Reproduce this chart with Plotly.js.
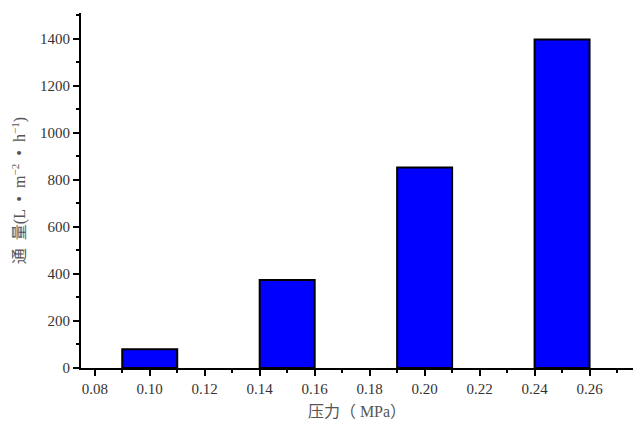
<!DOCTYPE html>
<html>
<head>
<meta charset="utf-8">
<script src="https://cdn.plot.ly/plotly-3.0.1.min.js"></script>
<style>
    html, body { margin: 0; padding: 0; background: #fff; }
    #chart { width: 641px; height: 425px; }
</style>
</head>
<body>
<div id="chart"></div>
<script>
const pressures = [0.10, 0.15, 0.20, 0.25];
const fluxValues = [80, 374, 853, 1397];
const xTickValues = [0.08, 0.10, 0.12, 0.14, 0.16, 0.18, 0.20, 0.22, 0.24, 0.26];
const xTickLabels = ['0.08', '0.10', '0.12', '0.14', '0.16', '0.18', '0.20', '0.22', '0.24', '0.26'];
const yTickValues = [0, 200, 400, 600, 800, 1000, 1200, 1400];

const tickFont = { family: 'Liberation Serif, Times New Roman, serif', size: 15, color: '#333' };
const titleFont = { family: 'Liberation Serif, Noto Sans CJK SC, serif', size: 16, color: '#555' };

Plotly.newPlot('chart', [{
    type: 'bar',
    x: pressures,
    y: fluxValues,
    width: 0.02,
    marker: { color: '#0000ff', line: { color: '#000', width: 2 } },
    hovertemplate: '%{x:.2f} MPa<br>%{y}<extra></extra>',
}], {
    width: 641,
    height: 425,
    margin: { t: 13, r: 8, b: 57, l: 81 },
    paper_bgcolor: '#fff',
    plot_bgcolor: '#fff',
    showlegend: false,
    xaxis: {
        range: [0.075, 0.2758],
        tickvals: xTickValues,
        ticktext: xTickLabels,
        ticks: 'outside',
        ticklen: 6,
        tickwidth: 2,
        tickcolor: '#000',
        minor: { ticks: 'outside', dtick: 0.01, tick0: 0.07, ticklen: 3, tickwidth: 2, tickcolor: '#000' },
        showline: true,
        linewidth: 2,
        linecolor: '#000',
        showgrid: false,
        zeroline: false,
        tickfont: tickFont,
        title: { text: '压力（ MPa）', font: titleFont, standoff: 10 },
    },
    yaxis: {
        range: [0, 1510],
        tickvals: yTickValues,
        ticks: 'outside',
        ticklen: 6,
        tickwidth: 2,
        tickcolor: '#000',
        minor: { ticks: 'outside', dtick: 100, ticklen: 3, tickwidth: 2, tickcolor: '#000' },
        showline: true,
        linewidth: 2,
        linecolor: '#000',
        showgrid: false,
        zeroline: false,
        tickfont: tickFont,
        title: { text: '通  量(L  •  m<sup>−2</sup>  •  h<sup>−1</sup>)', font: titleFont, standoff: 10 },
    },
}, { displayModeBar: false });
</script>
</body>
</html>
